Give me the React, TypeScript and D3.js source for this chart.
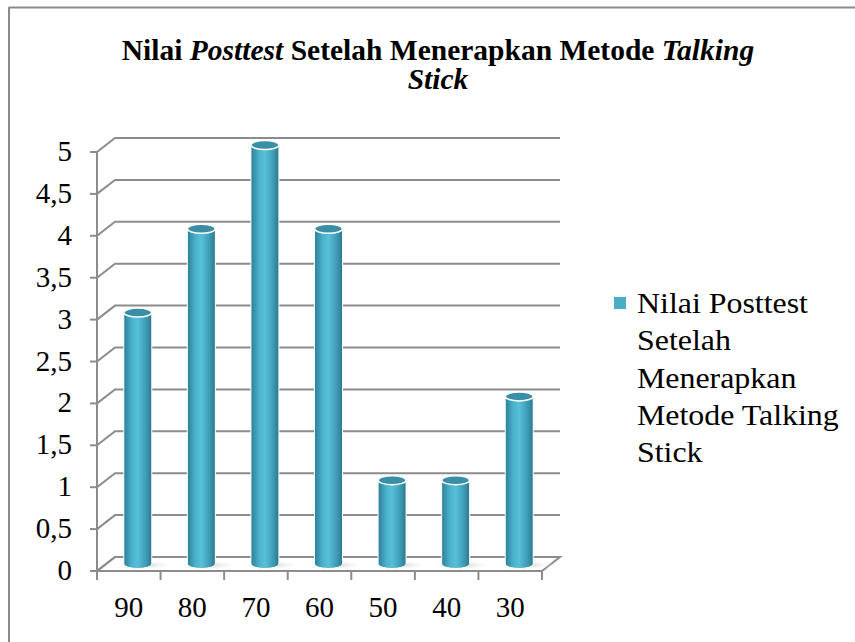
import { scaleBand, scaleLinear, range } from 'd3'

const categories = ['90', '80', '70', '60', '50', '40', '30']
const values = [3, 4, 5, 4, 1, 1, 2]
const yTicks = range(0, 5.01, 0.5)
const seriesName = 'Nilai Posttest Setelah Menerapkan Metode Talking Stick'
const legendLines = ['Nilai Posttest', 'Setelah', 'Menerapkan', 'Metode Talking', 'Stick']

const width = 855
const height = 642
const font = '"Liberation Serif"'
const barColor = '#4BACC6'
const gridColor = '#8c8c8c'

const App = () => {
  // front plane of the 3d box
  const left = 97
  const right = 542
  const depth = { dx: 18, dy: -14 }

  const xScale = scaleBand<string>().domain(categories).range([left, right])
  const yScale = scaleLinear().domain([0, 5]).range([571, 152])

  const fmt = (v: number) => String(v).replace('.', ',')
  const rx = 14
  const ry = 4.5
  const txt = { fontFamily: font }

  return (
    <svg width={width} height={height} style={{ position: 'absolute', left: 0, top: 0 }}>
      <defs>
        <linearGradient id="cyl" x1="0" x2="1" y1="0" y2="0">
          <stop offset="0" stopColor="#2c7f96" />
          <stop offset="0.3" stopColor="#4bb3cd" />
          <stop offset="0.5" stopColor="#58bfd8" />
          <stop offset="0.8" stopColor="#3d9bb4" />
          <stop offset="1" stopColor="#2a778c" />
        </linearGradient>
        <radialGradient id="shadow">
          <stop offset="0" stopColor="#c8c8c8" />
          <stop offset="1" stopColor="#ffffff" stopOpacity="0" />
        </radialGradient>
      </defs>
      <rect x={0} y={0} width={width} height={height} fill="#fff" />
      {/* frame */}
      <line x1={9} x2={width} y1={7.5} y2={7.5} stroke="#8a8a8a" strokeWidth={2} />
      <line x1={9} x2={9} y1={7} y2={height} stroke="#8a8a8a" strokeWidth={2} />

      {/* title */}
      <text x={438} y={60} textAnchor="middle" style={txt} fontWeight="bold" fontSize={29.5}>
        Nilai <tspan fontStyle="italic">Posttest</tspan> Setelah Menerapkan Metode{' '}
        <tspan fontStyle="italic">Talking</tspan>
      </text>
      <text x={438} y={89} textAnchor="middle" style={txt} fontWeight="bold" fontStyle="italic" fontSize={29.5}>
        Stick
      </text>

      {/* floor */}
      <path
        d={`M${left},${yScale(0)} L${right},${yScale(0)} L${right + depth.dx},${yScale(0) + depth.dy} L${left + depth.dx},${yScale(0) + depth.dy} Z`}
        fill="#fff"
        stroke={gridColor}
        strokeWidth={2}
      />

      {/* gridlines on side and back wall */}
      {yTicks.map(t => {
        const y = yScale(t)
        return (
          <path
            key={t}
            d={`M${left},${y} L${left + depth.dx},${y + depth.dy} L${right + depth.dx},${y + depth.dy}`}
            fill="none"
            stroke={gridColor}
            strokeWidth={2}
          />
        )
      })}

      {/* y axis */}
      <line x1={left} x2={left} y1={yScale(5)} y2={yScale(0)} stroke={gridColor} strokeWidth={2} />
      {yTicks.map(t => (
        <g key={t}>
          <line x1={left - 7} x2={left} y1={yScale(t)} y2={yScale(t)} stroke={gridColor} strokeWidth={2} />
          <text x={72} y={yScale(t) + 9} textAnchor="end" style={txt} fontSize={29}>
            {fmt(t)}
          </text>
        </g>
      ))}

      {/* x axis */}
      <line x1={left} x2={right} y1={yScale(0)} y2={yScale(0)} stroke={gridColor} strokeWidth={2} />
      {[...categories.map(c => xScale(c) || 0), right].map((x, i) => (
        <line key={i} x1={x} x2={x} y1={yScale(0)} y2={yScale(0) + 9} stroke={gridColor} strokeWidth={2} />
      ))}
      {categories.map(c => (
        <text key={c} x={(xScale(c) || 0) + xScale.bandwidth() / 2} y={617} textAnchor="middle" style={txt} fontSize={29}>
          {c}
        </text>
      ))}

      {/* cylinders */}
      {categories.map((c, i) => {
        const cx = (xScale(c) || 0) + xScale.bandwidth() / 2 + depth.dx / 2
        const yb = yScale(0) + depth.dy / 2
        const yt = yScale(values[i]) + depth.dy / 2
        return (
          <g key={c}>
            <ellipse cx={cx + 6} cy={yb + 1} rx={rx + 16} ry={5} fill="url(#shadow)" />
            <path
              d={`M${cx - rx},${yt} L${cx - rx},${yb} A${rx},${ry} 0 0 0 ${cx + rx},${yb} L${cx + rx},${yt} Z`}
              fill="url(#cyl)"
              stroke="#fff"
              strokeWidth={1}
            />
            <ellipse cx={cx} cy={yt} rx={rx} ry={ry} fill="#3a8ea6" stroke="#fff" strokeWidth={1.5} />
          </g>
        )
      })}

      {/* legend */}
      <rect x={614} y={297} width={12} height={12} fill={barColor} />
      <g transform="translate(637,0) scale(1.1,1)">
        <text style={txt} fontSize={29} aria-label={seriesName}>
          {legendLines.map((l, i) => (
            <tspan key={i} x={0} y={313 + i * 37.3}>
              {l}
            </tspan>
          ))}
        </text>
      </g>
    </svg>
  )
}

export default App
